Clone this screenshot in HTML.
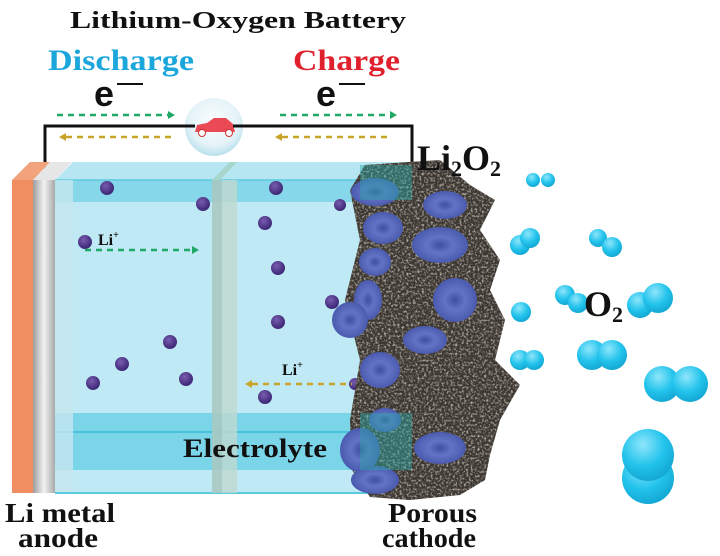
<!DOCTYPE html>
<html><head><meta charset="utf-8"><style>
html,body{margin:0;padding:0;background:#fff;width:720px;height:556px;overflow:hidden}
text{font-family:"Liberation Serif",serif;font-weight:bold}
</style></head><body>
<svg width="720" height="556" viewBox="0 0 720 556" xmlns="http://www.w3.org/2000/svg">
<defs>
<radialGradient id="bub" cx="0.4" cy="0.3" r="0.7"><stop offset="0" stop-color="#8fe6fb"/><stop offset="0.6" stop-color="#22c3ec"/><stop offset="1" stop-color="#14a8d4"/></radialGradient>
<radialGradient id="disc" cx="0.5" cy="0.5" r="0.5"><stop offset="0" stop-color="#3e4fa0"/><stop offset="0.45" stop-color="#6373c4"/><stop offset="1" stop-color="#4a5aae"/></radialGradient>
<radialGradient id="li" cx="0.4" cy="0.35" r="0.6"><stop offset="0" stop-color="#7a5cb0"/><stop offset="1" stop-color="#3f2a78"/></radialGradient>
<radialGradient id="car" cx="0.5" cy="0.4" r="0.6"><stop offset="0" stop-color="#fafdfe"/><stop offset="0.7" stop-color="#e4f3f8"/><stop offset="1" stop-color="#b9e0ec"/></radialGradient>
<linearGradient id="gray" x1="0" x2="1"><stop offset="0" stop-color="#9c9c9c"/><stop offset="0.5" stop-color="#f2f2f2"/><stop offset="1" stop-color="#a8a8a8"/></linearGradient>
<filter id="rough"><feTurbulence type="fractalNoise" baseFrequency="0.45" numOctaves="2" seed="3"/><feColorMatrix values="0 0 0 0 0.6  0 0 0 0 0.56  0 0 0 0 0.5  0 0 0 -2.4 1.3"/><feComposite in2="SourceGraphic" operator="in"/></filter>
</defs>

<text x="70" y="28" font-size="24" textLength="336" lengthAdjust="spacingAndGlyphs" fill="#111">Lithium-Oxygen Battery</text>
<text x="48" y="70" font-size="30" textLength="146" lengthAdjust="spacingAndGlyphs" fill="#1ba6dc">Discharge</text>
<text x="293" y="70" font-size="30" textLength="107" lengthAdjust="spacingAndGlyphs" fill="#e0202c">Charge</text>
<text x="104" y="106" font-size="36" text-anchor="middle" fill="#111" style="font-family:'Liberation Sans',sans-serif">e</text>
<line x1="117" y1="84" x2="143" y2="84" stroke="#111" stroke-width="2"/>
<text x="326" y="106" font-size="36" text-anchor="middle" fill="#111" style="font-family:'Liberation Sans',sans-serif">e</text>
<line x1="339" y1="84" x2="365" y2="84" stroke="#111" stroke-width="2"/>

<polyline points="45,180 45,126 412,126 412,172" fill="none" stroke="#111" stroke-width="3"/>
<g stroke-width="2.5" stroke-dasharray="6,5">
<line x1="57" y1="115" x2="168" y2="115" stroke="#1fa866"/>
<line x1="280" y1="115" x2="390" y2="115" stroke="#1fa866"/>
<line x1="66" y1="137" x2="175" y2="137" stroke="#c9a42a"/>
<line x1="282" y1="137" x2="390" y2="137" stroke="#c9a42a"/>
</g>
<polygon points="168,111 175,115 168,119" fill="#1fa866"/>
<polygon points="390,111 397,115 390,119" fill="#1fa866"/>
<polygon points="66,133 59,137 66,141" fill="#c9a42a"/>
<polygon points="282,133 275,137 282,141" fill="#c9a42a"/>
<circle cx="214" cy="127" r="29" fill="url(#car)"/>
<path d="M195,132 L197,125 L207,123 L214,118 L226,118 L233,124 L235,132 Z" fill="#ea4a55"/>
<circle cx="202" cy="133" r="3.5" fill="#fff" stroke="#c33" stroke-width="1"/>
<circle cx="229" cy="133" r="3.5" fill="#fff" stroke="#c33" stroke-width="1"/>
<line x1="185" y1="126" x2="195" y2="126" stroke="#111" stroke-width="3"/>
<line x1="233" y1="126" x2="243" y2="126" stroke="#111" stroke-width="3"/>

<polygon points="12,180 33,180 50,162 30,162" fill="#f2a37c"/>
<rect x="12" y="180" width="21" height="313" fill="#f08e62"/>
<polygon points="33,180 55,180 72,162 50,162" fill="#e6e6e6"/>
<rect x="33" y="180" width="22" height="313" fill="url(#gray)"/>

<polygon points="55,180 412,180 412,162 73,162" fill="#aee3f0" opacity="0.9"/>
<rect x="55" y="180" width="357" height="313" fill="#bfe9f5"/>
<rect x="55" y="180" width="357" height="22" fill="#7fd5e8" opacity="0.9"/>
<rect x="55" y="413" width="357" height="57" fill="#6dd1e6" opacity="0.85"/>
<line x1="55" y1="432" x2="412" y2="432" stroke="#39bcd4" stroke-width="1.5"/>
<line x1="55" y1="180" x2="412" y2="180" stroke="#5ccbe0" stroke-width="1.5"/>
<rect x="55" y="180" width="18" height="313" fill="#c6e6ee" opacity="0.8"/>
<line x1="55" y1="493" x2="412" y2="493" stroke="#5ccbe0" stroke-width="2"/>
<polygon points="212,180 220,180 237,162 230,162" fill="#a9d6cc"/>
<rect x="212" y="180" width="10" height="313" fill="#a8c9c2" opacity="0.9"/>
<rect x="222" y="180" width="15" height="313" fill="#c0d8d0" opacity="0.8"/>

<g fill="url(#li)">
<circle cx="107" cy="188" r="7"/><circle cx="203" cy="204" r="7"/><circle cx="85" cy="242" r="7"/>
<circle cx="265" cy="223" r="7"/><circle cx="278" cy="268" r="7"/><circle cx="278" cy="322" r="7"/>
<circle cx="276" cy="188" r="7"/><circle cx="332" cy="302" r="7"/><circle cx="170" cy="342" r="7"/>
<circle cx="122" cy="364" r="7"/><circle cx="93" cy="383" r="7"/><circle cx="186" cy="379" r="7"/>
<circle cx="265" cy="397" r="7"/><circle cx="340" cy="205" r="6"/><circle cx="355" cy="384" r="6"/>
</g>
<text x="98" y="245" font-size="16" fill="#111">Li<tspan font-size="10" dy="-7">+</tspan></text>
<line x1="85" y1="250" x2="192" y2="250" stroke="#1fa866" stroke-width="2.5" stroke-dasharray="6,5"/>
<polygon points="192,246 199,250 192,254" fill="#1fa866"/>
<text x="282" y="375" font-size="16" fill="#111">Li<tspan font-size="10" dy="-7">+</tspan></text>
<line x1="252" y1="384" x2="352" y2="384" stroke="#c9a42a" stroke-width="2.5" stroke-dasharray="6,5"/>
<polygon points="252,380 245,384 252,388" fill="#c9a42a"/>

<g>
<path id="cm" d="M365,165 L440,160 L470,185 L495,200 L480,230 L500,260 L490,290 L505,320 L495,360 L520,385 L500,420 L490,455 L485,480 L460,495 L410,500 L370,497 L352,470 L350,420 L360,360 L345,300 L360,240 L350,190 Z" fill="#3c3731"/>
<path d="M365,165 L440,160 L470,185 L495,200 L480,230 L500,260 L490,290 L505,320 L495,360 L520,385 L500,420 L490,455 L485,480 L460,495 L410,500 L370,497 L352,470 L350,420 L360,360 L345,300 L360,240 L350,190 Z" fill="#9a9080" filter="url(#rough)"/>
</g>
<g fill="url(#disc)">
<ellipse cx="375" cy="192" rx="24" ry="14"/><ellipse cx="445" cy="205" rx="22" ry="14"/>
<ellipse cx="383" cy="228" rx="20" ry="16"/><ellipse cx="440" cy="245" rx="28" ry="18"/>
<ellipse cx="375" cy="262" rx="16" ry="14"/><ellipse cx="368" cy="300" rx="14" ry="20"/>
<ellipse cx="455" cy="300" rx="22" ry="22"/><ellipse cx="350" cy="320" rx="18" ry="18"/>
<ellipse cx="425" cy="340" rx="22" ry="14"/><ellipse cx="380" cy="370" rx="20" ry="18"/>
<ellipse cx="385" cy="420" rx="16" ry="12"/><ellipse cx="360" cy="450" rx="20" ry="22"/>
<ellipse cx="440" cy="448" rx="26" ry="16"/><ellipse cx="375" cy="480" rx="24" ry="14"/>
</g>
<rect x="360" y="165" width="52" height="35" fill="#2aa8a8" opacity="0.45"/>
<rect x="360" y="413" width="52" height="57" fill="#2aa8a8" opacity="0.45"/>

<g fill="url(#bub)">
<circle cx="533" cy="180" r="7"/><circle cx="548" cy="180" r="7"/>
<circle cx="520" cy="245" r="10"/><circle cx="530" cy="238" r="10"/>
<circle cx="598" cy="238" r="9"/><circle cx="612" cy="247" r="10"/>
<circle cx="521" cy="312" r="10"/>
<circle cx="565" cy="295" r="10"/><circle cx="578" cy="303" r="10"/>
<circle cx="640" cy="305" r="13"/><circle cx="658" cy="298" r="15"/>
<circle cx="520" cy="360" r="10"/><circle cx="534" cy="360" r="10"/>
<circle cx="592" cy="355" r="15"/><circle cx="612" cy="355" r="15"/>
<circle cx="662" cy="384" r="18"/><circle cx="690" cy="384" r="18"/>
<circle cx="648" cy="478" r="26"/><circle cx="648" cy="455" r="26"/>
</g>
<text x="417" y="170" font-size="36" fill="#111">Li<tspan font-size="22" dy="6">2</tspan><tspan dy="-6">O</tspan><tspan font-size="22" dy="6">2</tspan></text>
<text x="584" y="316" font-size="36" fill="#111">O<tspan font-size="22" dy="6">2</tspan></text>
<text x="183" y="457" font-size="26" textLength="144" lengthAdjust="spacingAndGlyphs" fill="#111">Electrolyte</text>
<text x="5" y="522" font-size="27" textLength="110" lengthAdjust="spacingAndGlyphs" fill="#111">Li metal</text>
<text x="18" y="547" font-size="27" textLength="80" lengthAdjust="spacingAndGlyphs" fill="#111">anode</text>
<text x="388" y="522" font-size="27" textLength="89" lengthAdjust="spacingAndGlyphs" fill="#111">Porous</text>
<text x="382" y="547" font-size="27" textLength="94" lengthAdjust="spacingAndGlyphs" fill="#111">cathode</text>
</svg>
</body></html>
